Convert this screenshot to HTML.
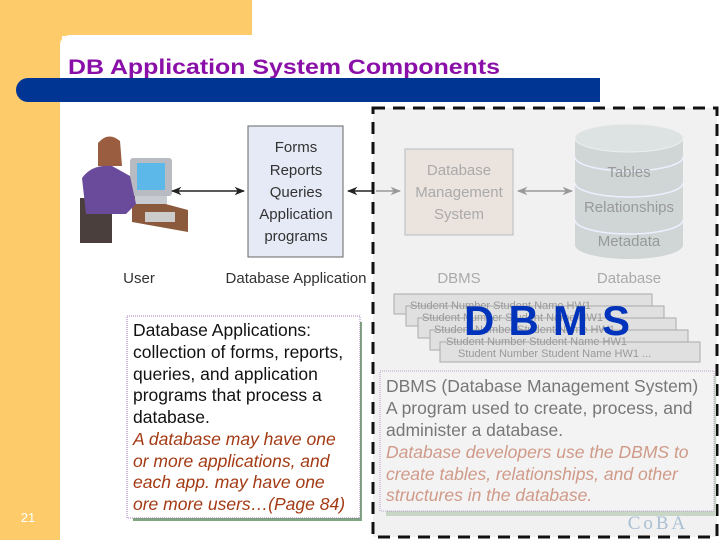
<!DOCTYPE html>
<html><head><meta charset="utf-8"><style>
body{margin:0;width:720px;height:540px;overflow:hidden;background:#fff;font-family:"Liberation Sans",sans-serif}
</style></head><body>
<svg width="720" height="540" viewBox="0 0 720 540" xmlns="http://www.w3.org/2000/svg" font-family="Liberation Sans, sans-serif">
<defs>
<marker id="a" viewBox="0 0 10 10" refX="9" refY="5" markerWidth="7" markerHeight="7" orient="auto-start-reverse"><path d="M0,1 L10,5 L0,9 L3,5z" fill="#222"/></marker>
<marker id="g" viewBox="0 0 10 10" refX="9" refY="5" markerWidth="7" markerHeight="7" orient="auto-start-reverse"><path d="M0,1 L10,5 L0,9 L3,5z" fill="#999"/></marker>
</defs>
<rect x="0" y="0" width="252" height="36" fill="#fecb6a"/>
<rect x="0" y="0" width="62" height="540" fill="#fecb6a"/>
<rect x="60" y="35" width="700" height="520" rx="10" fill="#fff"/>
<text x="68" y="74" font-size="21" font-weight="bold" fill="#8a0fa8" textLength="432" lengthAdjust="spacingAndGlyphs">DB Application System Components</text>
<path d="M28,78 H600 V102 H28 A12,12 0 0 1 28,78z" fill="#003594"/>
<rect x="373" y="108" width="344" height="429" fill="#f1f1f1"/>
<path d="M373,108 H717 V537 H373 Z" fill="none" stroke="#111" stroke-width="3" stroke-dasharray="12,8"/>
<g>
<rect x="80" y="198" width="32" height="45" fill="#4a3f3c"/>
<path d="M132,195 L188,210 L188,232 L132,222z" fill="#8b5a3c"/>
<rect x="130" y="158" width="42" height="38" rx="3" fill="#b8bcc2"/>
<rect x="137" y="163" width="28" height="27" fill="#5bb8e8"/>
<rect x="135" y="196" width="32" height="8" fill="#c8cbd0"/>
<path d="M98,143 q10,-12 22,-2 l2,25 h-24z" fill="#9b5d3f"/>
<path d="M82,178 q10,-14 30,-12 l18,10 l6,28 l-10,10 l-40,0z" fill="#6a4a9a"/>
<rect x="145" y="212" width="30" height="10" fill="#ccc"/>
</g>
<line x1="172" y1="191" x2="244" y2="191" stroke="#222" stroke-width="1.5" marker-start="url(#a)" marker-end="url(#a)"/>
<rect x="248" y="126" width="95" height="131" fill="#e6eaf6" stroke="#666" stroke-width="1"/>
<g font-size="15" fill="#333" text-anchor="middle">
<text x="296" y="152">Forms</text><text x="296" y="175">Reports</text><text x="296" y="197">Queries</text><text x="296" y="219">Application</text><text x="296" y="241">programs</text>
<text x="139" y="283">User</text><text x="296" y="283">Database Application</text>
</g>
<line x1="348" y1="191" x2="372" y2="191" stroke="#222" stroke-width="1.5" marker-start="url(#a)"/>
<line x1="376" y1="191" x2="400" y2="191" stroke="#999" stroke-width="1.5" marker-end="url(#g)"/>
<rect x="405" y="149" width="108" height="86" fill="#ebe3de" stroke="#bbb"/>
<g font-size="15" fill="#aaa" text-anchor="middle">
<text x="459" y="175">Database</text><text x="459" y="197">Management</text><text x="459" y="219">System</text>
<text x="459" y="283">DBMS</text><text x="629" y="283">Database</text>
</g>
<line x1="518" y1="191" x2="572" y2="191" stroke="#999" stroke-width="1.5" marker-start="url(#g)" marker-end="url(#g)"/>
<path d="M575,138 V245 A54,14 0 0 0 683,245 V138z" fill="#cfd6d5"/>
<ellipse cx="629" cy="138" rx="54" ry="14" fill="#dde3e2" stroke="#eee"/>
<path d="M575,157 A54,14 0 0 0 683,157 M575,183 A54,14 0 0 0 683,183 M575,220 A54,14 0 0 0 683,220" fill="none" stroke="#eef" stroke-width="1.5"/>
<g font-size="15" fill="#999" text-anchor="middle">
<text x="629" y="177">Tables</text><text x="629" y="212">Relationships</text><text x="629" y="246">Metadata</text>
</g>
<g fill="#e0e0e0" stroke="#aaa">
<rect x="394" y="294" width="258" height="20"/><rect x="406" y="306" width="258" height="20"/><rect x="418" y="318" width="258" height="20"/><rect x="430" y="330" width="258" height="20"/><rect x="440" y="342" width="260" height="20"/>
</g>
<g font-size="11" fill="#999">
<text x="410" y="309">Student Number  Student Name  HW1</text>
<text x="422" y="321">Student Number  Student Name  HW1</text>
<text x="434" y="333">Student Number  Student Name  HW1</text>
<text x="446" y="345">Student Number  Student Name  HW1</text>
<text x="458" y="357">Student Number  Student Name  HW1  ...</text>
</g>
<text x="464" y="335" font-size="42" font-weight="bold" fill="#0033bb" textLength="166" lengthAdjust="spacing">DBMS</text>
<rect x="133" y="322" width="229" height="199" fill="#7fa880"/>
<rect x="127" y="316" width="233" height="202" fill="#fff" stroke="#8a5aa8" stroke-width="0.8" stroke-dasharray="1,1"/>
<g font-size="17.5">
<text x="133" y="336" fill="#111">Database Applications:</text>
<text x="133" y="358" fill="#111">collection of forms, reports,</text>
<text x="133" y="380" fill="#111">queries, and application</text>
<text x="133" y="401" fill="#111">programs that process a</text>
<text x="133" y="423" fill="#111">database.</text>
<g fill="#a33a14" font-style="italic">
<text x="133" y="445">A database may have one</text>
<text x="133" y="467">or more applications, and</text>
<text x="133" y="488">each app. may have one</text>
<text x="133" y="510">ore more users…(Page 84)</text>
</g></g>
<text x="28" y="522" font-size="13" fill="#fff" text-anchor="middle">21</text>
<rect x="386" y="376" width="330" height="140" fill="#c8d6c6"/>
<rect x="380" y="371" width="334" height="140" fill="#f3f3f3" stroke="#a98ac0" stroke-width="0.8" stroke-dasharray="1,1"/>
<g font-size="17.5">
<text x="386" y="392" fill="#777">DBMS (Database Management System)</text>
<text x="386" y="414" fill="#777">A program used to create, process, and</text>
<text x="386" y="436" fill="#777">administer a database.</text>
<g fill="#d09a88" font-style="italic">
<text x="386" y="458">Database developers use the DBMS to</text>
<text x="386" y="480">create tables, relationships, and other</text>
<text x="386" y="501">structures in the database.</text>
</g></g>
<text x="658" y="529" font-size="19" fill="#a9bfd3" font-family="Liberation Serif, serif" text-anchor="middle" letter-spacing="3">CoBA</text>
</svg>
</body></html>
